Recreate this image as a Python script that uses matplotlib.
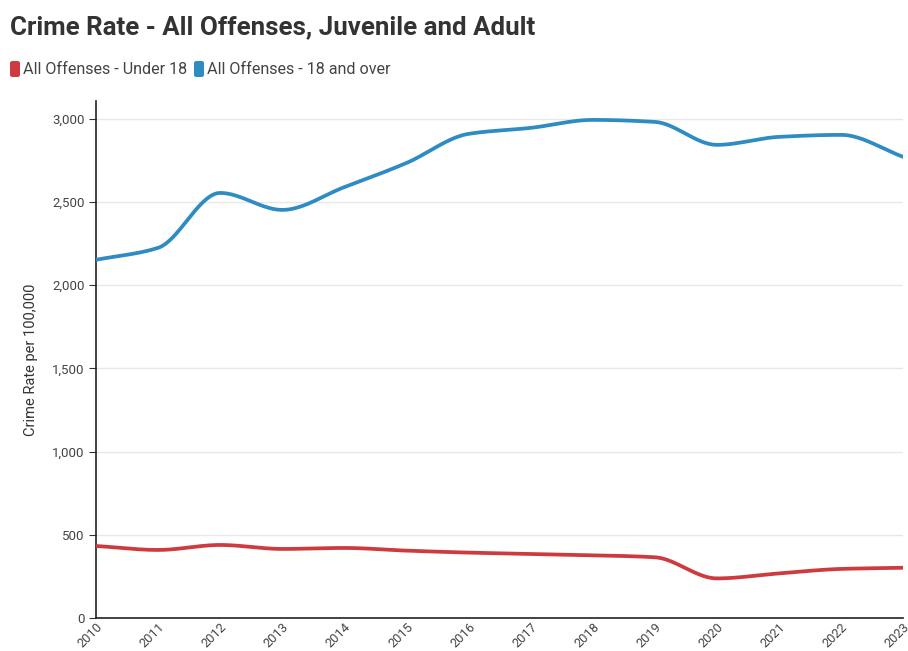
import numpy as np
import matplotlib.pyplot as plt
import matplotlib.transforms as mtransforms
from matplotlib.patches import FancyBboxPatch
from matplotlib.ticker import FuncFormatter

plt.rcParams['font.family'] = ['Roboto', 'DejaVu Sans']

years = [2010, 2011, 2012, 2013, 2014, 2015, 2016, 2017, 2018, 2019, 2020, 2021, 2022, 2023]
under18 = [433, 409, 439, 415, 421, 405, 393, 385, 377, 365, 238, 268, 295, 302]
adult = [2153, 2225, 2555, 2453, 2590, 2735, 2910, 2946, 2994, 2982, 2844, 2892, 2904, 2772]

red = '#cf3a40'
blue = '#2f8cc2'


def monotone(x, y, n=40):
    # monotone cubic (Fritsch-Carlson), just to draw the smooth line
    x = np.asarray(x, float)
    y = np.asarray(y, float)
    h = np.diff(x)
    d = np.diff(y) / h
    m = np.zeros_like(y)
    m[0], m[-1] = d[0], d[-1]
    for i in range(1, len(y) - 1):
        if d[i - 1] * d[i] <= 0:
            m[i] = 0
        else:
            m[i] = 3 * (h[i - 1] + h[i]) / ((2 * h[i] + h[i - 1]) / d[i - 1] + (h[i] + 2 * h[i - 1]) / d[i])
    xs, ys = [], []
    for i in range(len(x) - 1):
        t = np.linspace(0, 1, n)
        h00 = 2 * t**3 - 3 * t**2 + 1
        h10 = t**3 - 2 * t**2 + t
        h01 = -2 * t**3 + 3 * t**2
        h11 = t**3 - t**2
        xs.append(x[i] + t * h[i])
        ys.append(h00 * y[i] + h10 * h[i] * m[i] + h01 * y[i + 1] + h11 * h[i] * m[i + 1])
    return np.concatenate(xs), np.concatenate(ys)


fig = plt.figure(figsize=(9.08, 6.51), dpi=100)
ax = fig.add_axes([0.1057, 0.0507, 0.889, 0.794])

for vals, c in [(under18, red), (adult, blue)]:
    xs, ys = monotone(years, vals)
    ax.plot(xs, ys, color=c, lw=2.7, solid_capstyle='round', zorder=3)

ax.set_xlim(2010, 2023)
ax.set_ylim(0, 3107)
ax.set_yticks([0, 500, 1000, 1500, 2000, 2500, 3000])
ax.yaxis.set_major_formatter(FuncFormatter(lambda v, p: f'{int(v):,}'))
ax.set_xticks(years)
ax.set_xticklabels([str(y) for y in years], rotation=45, ha='right', rotation_mode='anchor')
xlabs = ax.get_xticklabels()
for i, lab in enumerate(xlabs):
    dx = 2 if i < len(xlabs) - 1 else -9  # keep the last one inside the figure
    lab.set_transform(lab.get_transform() + mtransforms.ScaledTranslation(dx / 100, 0, fig.dpi_scale_trans))
ax.grid(axis='y', color='#e8e8e8', lw=1)
ax.set_axisbelow(True)
for s in ['top', 'right']:
    ax.spines[s].set_visible(False)
for s in ['left', 'bottom']:
    ax.spines[s].set_color('#222222')
    ax.spines[s].set_linewidth(1.2)
ax.tick_params(axis='y', length=5, color='#333333', labelsize=9.5, labelcolor='#444444', pad=3)
ax.tick_params(axis='x', length=0, labelsize=9.3, labelcolor='#444444', pad=2)
ax.set_ylabel('Crime Rate per 100,000', fontsize=10.5, color='#333333', labelpad=10)

fig.text(0.011, 0.958, 'Crime Rate - All Offenses, Juvenile and Adult', fontsize=18.6,
         fontweight='bold', color='#333333', va='center')

labels = ['All Offenses - Under 18', 'All Offenses - 18 and over']
lx = [10, 194]
for x0, lab, c in zip(lx, labels, [red, blue]):
    fig.patches.append(FancyBboxPatch((x0 / 908, (651 - 77) / 651), 10 / 908, 16 / 651,
                                      boxstyle='round,pad=0,rounding_size=0.003',
                                      transform=fig.transFigure, fc=c, ec='none'))
    fig.text((x0 + 13) / 908, (651 - 69) / 651, lab, fontsize=11.6, color='#444444', va='center')

fig.savefig('out.png', dpi=100)
